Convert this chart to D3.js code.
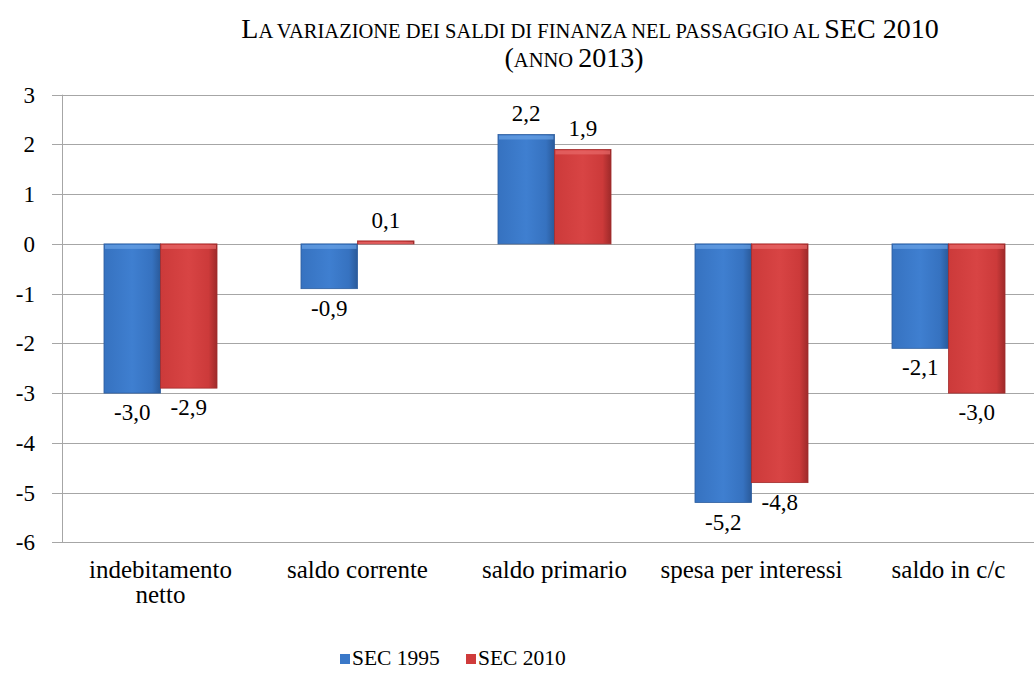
<!DOCTYPE html>
<html><head><meta charset="utf-8">
<script src="https://cdn.jsdelivr.net/npm/d3@7"></script>
<style>
html,body{margin:0;padding:0;background:#fff;}
</style></head>
<body>
<svg id="chart" width="1034" height="685"></svg>
<script>
const categories = [["indebitamento","netto"],["saldo corrente"],["saldo primario"],["spesa per interessi"],["saldo in c/c"]];
const seriesNames = ["SEC 1995","SEC 2010"];
const sec1995 = [-3.0, -0.9, 2.2, -5.2, -2.1];
const sec2010 = [-2.9, 0.06, 1.9, -4.8, -3.0];
const labels1995 = ["-3,0","-0,9","2,2","-5,2","-2,1"];
const labels2010 = ["-2,9","0,1","1,9","-4,8","-3,0"];
const yTicks = [3,2,1,0,-1,-2,-3,-4,-5,-6];
const FONT = "'Liberation Serif', 'Times New Roman', serif";

const svg = d3.select("#chart");
const defs = svg.append("defs");
function grad(id, light, mid, dark){
  const g = defs.append("linearGradient").attr("id", id).attr("x1","0").attr("x2","1").attr("y1","0").attr("y2","0");
  g.append("stop").attr("offset","0%").attr("stop-color", mid);
  g.append("stop").attr("offset","50%").attr("stop-color", light);
  g.append("stop").attr("offset","85%").attr("stop-color", mid);
  g.append("stop").attr("offset","100%").attr("stop-color", dark);
}
grad("gBlue", "#3f7fd0", "#3672c0", "#2a5a9a");
grad("gRed", "#d84444", "#cc3a3a", "#9e2a2a");
const colors = ["url(#gBlue)","url(#gRed)"];
const legendColors = ["#3a78c8","#cf3b3b"];

function txt(parent, x, yy, s, size, anchor){
  return parent.append("text").attr("x", x).attr("y", yy)
    .attr("text-anchor", anchor || "start")
    .style("font-family", FONT).style("font-size", size + "px").attr("fill", "#000").text(s);
}

const x0 = d3.scaleBand().domain(d3.range(categories.length)).range([62, 1047]).padding(0);
const x1 = d3.scaleBand().domain([0,1]).range([0, x0.bandwidth()]).paddingInner(0).paddingOuter(0.743);
const y = d3.scaleLinear().domain([-6, 3]).range([542.3, 94.7]);

svg.append("g").selectAll("line").data(yTicks).join("line")
  .attr("x1", 52).attr("x2", 1034)
  .attr("y1", d => Math.round(y(d)) + 0.5).attr("y2", d => Math.round(y(d)) + 0.5)
  .attr("stroke", "#a6a6a6").attr("stroke-width", 1);
svg.append("line").attr("x1", 62.5).attr("x2", 62.5).attr("y1", y(3)).attr("y2", y(-6))
  .attr("stroke", "#a6a6a6");
const tickG = svg.append("g");
yTicks.forEach(d => txt(tickG, 35, y(d) + 8, String(d), 23, "end"));

const series = [sec1995, sec2010];
const seriesLabels = [labels1995, labels2010];
const labG = svg.append("g");
series.forEach((vals, si) => {
  const g = svg.append("g");
  g.selectAll("rect").data(vals).join("rect")
    .attr("x", (d,i) => x0(i) + x1(si))
    .attr("width", x1.bandwidth())
    .attr("y", d => Math.min(y(d), y(0)))
    .attr("height", d => Math.abs(y(d) - y(0)))
    .attr("fill", colors[si])
    .attr("stroke", si === 0 ? "#2c5d9e" : "#a12c2c").attr("stroke-width", 0.8);
  g.selectAll("rect.hl").data(vals).join("rect").attr("class","hl")
    .attr("x", (d,i) => x0(i) + x1(si) + 1)
    .attr("width", x1.bandwidth() - 2)
    .attr("y", d => Math.min(y(d), y(0)) + 1)
    .attr("height", d => Math.min(4, Math.abs(y(d) - y(0)) - 1))
    .attr("fill", si === 0 ? "#6aa3e6" : "#e86a6a").attr("opacity", 0.7);
  vals.forEach((d, i) => {
    txt(labG, x0(i) + x1(si) + x1.bandwidth()/2, d >= 0 ? y(d) - 13 : y(d) + 27,
        seriesLabels[si][i], 23, "middle");
  });
});

const catG = svg.append("g");
categories.forEach((d, i) => {
  const cx = x0(i) + x0.bandwidth()/2;
  d.forEach((line, k) => txt(catG, cx, 578 + k * 25, line, 25, "middle"));
});

const t1 = svg.append("text").attr("x", 590).attr("y", 38).attr("text-anchor","middle")
  .style("font-family", FONT).attr("fill","#000");
t1.append("tspan").style("font-size", "28px").text("L");
t1.append("tspan").style("font-size", "20.5px").text("A VARIAZIONE DEI SALDI DI FINANZA NEL PASSAGGIO AL ");
t1.append("tspan").style("font-size", "28px").text("SEC 2010");
const t2 = svg.append("text").attr("x", 574).attr("y", 67).attr("text-anchor","middle")
  .style("font-family", FONT).attr("fill","#000");
t2.append("tspan").style("font-size", "28px").text("(");
t2.append("tspan").style("font-size", "20.5px").text("ANNO ");
t2.append("tspan").style("font-size", "28px").text("2013)");

const leg = svg.append("g");
const legX = [340, 466];
seriesNames.forEach((n, i) => {
  leg.append("rect").attr("x", legX[i]).attr("y", 654).attr("width", 10).attr("height", 10)
    .attr("fill", legendColors[i]);
  txt(leg, legX[i] + 12, 665, n, 21.5, "start");
});
</script>
</body></html>
